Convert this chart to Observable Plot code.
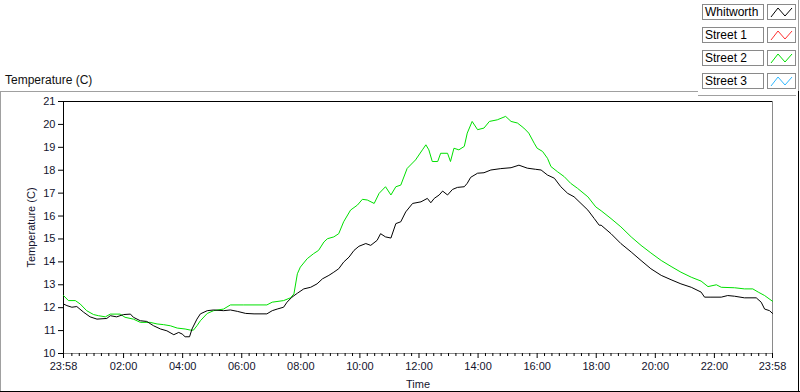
<!DOCTYPE html>
<html>
<head>
<meta charset="utf-8">
<script src="https://cdn.jsdelivr.net/npm/d3@7"></script>
<script src="https://cdn.jsdelivr.net/npm/@observablehq/plot@0.6"></script>
<style>
  body { margin: 0; background: #fff; }
  #wrap { position: relative; width: 800px; height: 392px; overflow: hidden; background: #fff; font-family: "Liberation Sans", Arial, sans-serif; }
  #title { position: absolute; left: 5px; top: 73px; font-size: 12px; color: #111; }
  .ln { position: absolute; }
  #chart { position: absolute; left: 0; top: 92px; }
  .lrow { position: absolute; left: 702px; height: 15px; }
  .lname { position: absolute; left: 0; top: 0; width: 61px; height: 14px; border: 1px solid #8a8a8a; font-size: 12px; line-height: 14px; padding-left: 2px; box-sizing: border-box; width: 62px; height: 16px; color: #000; }
  .lsw { position: absolute; left: 65px; top: 0; width: 29px; height: 16px; border: 1px solid #8a8a8a; box-sizing: border-box; }
</style>
</head>
<body>
<div id="wrap">
  <div id="title">Temperature (C)</div>
  <div class="ln" style="left:0;top:91px;width:698px;height:1px;background:#a0a0a0"></div>
  <div class="ln" style="left:0;top:91px;width:1px;height:301px;background:#a0a0a0"></div>
  <div class="ln" style="left:0;top:391px;width:800px;height:1px;background:#000"></div>
  <div class="ln" style="left:798px;top:91px;width:1px;height:301px;background:#000"></div>
  <div class="ln" style="left:698px;top:95px;width:98px;height:1px;background:#a0a0a0"></div>
  <div class="ln" style="left:798px;top:0;width:1px;height:91px;background:#a0a0a0"></div>
  <div id="legend"></div>
  <div id="chart"></div>
</div>
<script>
// ---- data (time = minutes after 23:58, value = °C) ----
const seriesNames = ["Whitworth", "Street 1", "Street 2", "Street 3"];
const seriesColors = ["#000000", "#ff3030", "#00e000", "#30b8ff"];

const whitworthTime = [0,7,17,27,41,54,68,88,95,108,122,136,142,156,169,183,197,210,224,234,241,247,256,261,271,
  278,292,305,325,339,353,370,387,413,424,434,447,454,464,475,488,502,515,526,539,549,559,569,580,590,600,614,624,637,644,654,665,675,
  685,695,709,726,739,746,753,763,770,780,790,800,814,820,827,841,854,868,888,909,925,942,959,970,983,997,1010,1024,1037,1051,1065,1078,1088,
  1092,1112,1132,1153,1173,1193,1214,1234,1254,1275,1295,1302,1315,1336,1349,1363,1383,1407,1417,1424,1434,1440];
const whitworthTemp = [12.16,12.09,12.02,12.05,11.80,11.60,11.50,11.53,11.65,11.60,11.70,11.72,11.58,11.43,11.40,11.21,11.07,10.99,10.82,10.92,10.85,10.73,10.73,11.07,11.50,
  11.73,11.87,11.90,11.87,11.90,11.84,11.75,11.73,11.73,11.87,11.94,12.02,12.24,12.46,12.63,12.82,12.89,13.04,13.26,13.41,13.55,13.70,13.99,14.21,14.50,14.68,14.80,14.72,14.94,15.23,15.09,15.04,15.67,
  15.75,16.18,16.55,16.62,16.77,16.58,16.77,16.92,17.09,16.92,17.16,17.25,17.28,17.43,17.69,17.87,17.89,18.01,18.07,18.11,18.22,18.09,18.04,18.01,17.79,17.65,17.28,16.99,16.84,16.55,16.26,15.89,15.60,
  15.60,15.23,14.80,14.43,14.06,13.70,13.41,13.22,13.04,12.89,12.68,12.46,12.46,12.46,12.53,12.50,12.43,12.43,12.24,11.94,11.87,11.75];

const street2Time = [0,10,24,34,47,61,71,85,95,115,125,142,156,176,190,203,217,231,247,258,264,271,
  278,292,305,325,339,366,413,424,447,461,468,475,481,495,508,518,529,536,549,559,569,583,597,607,617,631,641,654,665,675,
  685,698,715,729,736,742,749,760,766,780,786,793,803,814,820,830,841,854,865,881,898,909,922,935,945,956,962,973,983,990,1003,1017,1030,1044,1065,1081,
  1092,1112,1132,1153,1173,1193,1214,1234,1254,1275,1295,1309,1326,1336,1363,1383,1400,1411,1424,1440];
const street2Temp = [12.53,12.31,12.31,12.16,11.87,11.70,11.65,11.60,11.72,11.72,11.58,11.50,11.36,11.36,11.29,11.26,11.21,11.11,11.07,11.02,11.02,11.21,
  11.43,11.75,11.87,11.94,12.12,12.12,12.12,12.24,12.31,12.43,12.60,13.48,13.77,14.14,14.36,14.50,14.87,15.01,15.09,15.23,15.75,16.26,16.48,16.73,16.70,16.55,16.99,17.28,16.92,17.28,
  17.35,18.08,18.45,18.89,19.11,18.89,18.38,18.38,18.74,18.74,18.38,18.96,18.89,19.04,19.62,20.13,19.77,19.84,20.13,20.20,20.35,20.13,20.06,19.84,19.62,19.18,18.96,18.82,18.52,18.16,17.94,17.72,17.43,17.21,16.84,16.40,
  16.23,15.89,15.53,15.09,14.72,14.39,14.06,13.80,13.55,13.33,13.16,12.92,13.00,12.89,12.87,12.82,12.82,12.68,12.53,12.28];

const xTickLabels = ["23:58","02:00","04:00","06:00","08:00","10:00","12:00","14:00","16:00","18:00","20:00","22:00","23:58"];
const xTickPos = [0,122,242,362,482,602,722,842,962,1082,1202,1322,1440];
const yTicks = [10,11,12,13,14,15,16,17,18,19,20,21];

// ---- build ----
const whit = whitworthTime.map((t, i) => ({t, v: whitworthTemp[i]}));
const st2 = street2Time.map((t, i) => ({t, v: street2Temp[i]}));
const labelMap = new Map(xTickPos.map((p, i) => [p, xTickLabels[i]]));
const minorTicks = [];
for (let m = 17; m < 1440; m += 15) if ((m - 2) % 120 !== 0) minorTicks.push(m);

const chart = Plot.plot({
  width: 800, height: 300,
  marginTop: 9, marginBottom: 39, marginLeft: 63, marginRight: 28,
  style: {fontFamily: "'Liberation Sans', Arial, sans-serif", fontSize: "11px", background: "transparent", color: "#14142e"},
  x: {domain: [0, 1440]},
  y: {domain: [10, 21]},
  marks: [
    Plot.ruleY([10], {stroke: "#8a8a8a"}),
    Plot.ruleX([1440], {stroke: "#8a8a8a"}),
    Plot.ruleY([21], {stroke: "#000"}),
    Plot.ruleX([0], {stroke: "#000"}),
    Plot.axisY({ticks: yTicks, tickSize: 5, tickPadding: 3, stroke: "#000", label: "Temperature (C)", labelAnchor: "center", labelOffset: 36, labelArrow: "none", fill: "#14142e"}),
    Plot.axisX({ticks: minorTicks, tickSize: 3, stroke: "#000", tickFormat: () => "", label: null}),
    Plot.axisX({ticks: xTickPos, tickSize: 5, tickPadding: 4, stroke: "#000", tickFormat: d => labelMap.get(d), label: "Time", labelAnchor: "center", labelOffset: 34, labelArrow: "none", fill: "#14142e"}),
    Plot.line(st2, {x: "t", y: "v", stroke: seriesColors[2], strokeWidth: 1}),
    Plot.line(whit, {x: "t", y: "v", stroke: seriesColors[0], strokeWidth: 1})
  ]
});
document.getElementById("chart").appendChild(chart);

// legend
const legend = document.getElementById("legend");
const rowTops = [4, 27, 50, 73];
seriesNames.forEach((name, i) => {
  const row = document.createElement("div");
  row.className = "lrow";
  row.style.top = rowTops[i] + "px";
  row.innerHTML = `<div class="lname">${name}</div><div class="lsw"><svg width="27" height="14" style="display:block"><polyline points="3,12 10,3 17,11 24,3" fill="none" stroke="${seriesColors[i]}" stroke-width="1"/></svg></div>`;
  legend.appendChild(row);
});
</script>
</body>
</html>
